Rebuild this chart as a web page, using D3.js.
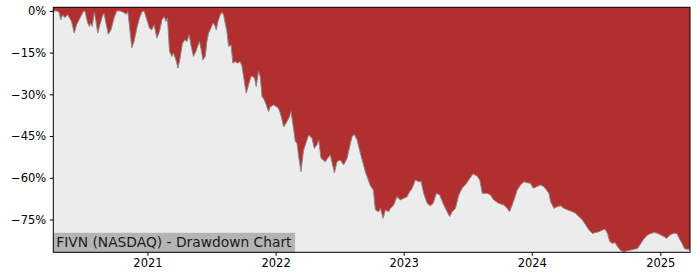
<!DOCTYPE html>
<html>
<head>
<meta charset="utf-8">
<script src="https://cdn.jsdelivr.net/npm/d3@7"></script>
<style>
  body { margin: 0; background: #fff; }
  svg { display: block; font-family: "DejaVu Sans", sans-serif; }
</style>
</head>
<body>
<svg id="drawing_region"></svg>
<script>
// dates as decimal years, drawdown in percent
const years = [
  2020.267, 2020.295, 2020.311, 2020.326, 2020.339, 2020.357, 2020.380, 2020.409, 2020.430, 2020.448,
  2020.474, 2020.500, 2020.513, 2020.531, 2020.547, 2020.558, 2020.570, 2020.586, 2020.597, 2020.613,
  2020.630, 2020.648, 2020.662, 2020.677, 2020.695, 2020.716, 2020.740, 2020.761, 2020.787, 2020.813,
  2020.834, 2020.847, 2020.859, 2020.878, 2020.896, 2020.917, 2020.938, 2020.956, 2020.974, 2020.995,
  2021.016, 2021.034, 2021.052, 2021.073, 2021.094, 2021.113, 2021.130, 2021.146, 2021.156, 2021.172,
  2021.191, 2021.203, 2021.222, 2021.238, 2021.255, 2021.273, 2021.295, 2021.308, 2021.326, 2021.339,
  2021.359, 2021.378, 2021.391, 2021.406, 2021.417, 2021.433, 2021.451, 2021.464, 2021.477, 2021.495,
  2021.511, 2021.523, 2021.537, 2021.550, 2021.568, 2021.581, 2021.594, 2021.607, 2021.620, 2021.633,
  2021.652, 2021.667, 2021.685, 2021.703, 2021.724, 2021.738, 2021.750, 2021.771, 2021.789, 2021.808,
  2021.823, 2021.836, 2021.849, 2021.867, 2021.880, 2021.894, 2021.912, 2021.927, 2021.945, 2021.959,
  2021.984, 2021.998, 2022.021, 2022.037, 2022.050, 2022.063, 2022.089, 2022.109, 2022.120, 2022.136,
  2022.154, 2022.167, 2022.180, 2022.198, 2022.219, 2022.245, 2022.258, 2022.284, 2022.302, 2022.323,
  2022.336, 2022.355, 2022.388, 2022.406, 2022.427, 2022.459, 2022.480, 2022.505, 2022.531, 2022.558,
  2022.578, 2022.597, 2022.615, 2022.636, 2022.662, 2022.701, 2022.740, 2022.763, 2022.779, 2022.805,
  2022.818, 2022.839, 2022.857, 2022.883, 2022.896, 2022.922, 2022.948, 2022.974, 2023.000, 2023.027,
  2023.039, 2023.066, 2023.091, 2023.117, 2023.136, 2023.156, 2023.183, 2023.209, 2023.230, 2023.255,
  2023.281, 2023.313, 2023.339, 2023.359, 2023.378, 2023.404, 2023.430, 2023.456, 2023.490, 2023.516,
  2023.542, 2023.573, 2023.594, 2023.613, 2023.652, 2023.677, 2023.703, 2023.742, 2023.781, 2023.808,
  2023.826, 2023.847, 2023.865, 2023.886, 2023.912, 2023.938, 2023.964, 2023.990, 2024.011, 2024.037,
  2024.068, 2024.094, 2024.115, 2024.133, 2024.146, 2024.172, 2024.198, 2024.224, 2024.250, 2024.281,
  2024.316, 2024.341, 2024.367, 2024.394, 2024.420, 2024.445, 2024.472, 2024.498, 2024.523, 2024.550,
  2024.570, 2024.589, 2024.607, 2024.628, 2024.648, 2024.667, 2024.693, 2024.719, 2024.745, 2024.771,
  2024.797, 2024.823, 2024.849, 2024.875, 2024.902, 2024.927, 2024.953, 2024.980, 2025.005, 2025.031,
  2025.050, 2025.076, 2025.102, 2025.128, 2025.148, 2025.170, 2025.188, 2025.206, 2025.232
];

const drawdown = [
  0, 0, -0.4, -3.2, -1.4, -2.4, -1.4, -3.8, -8.0, -5.0,
  -2.6, -0.3, 0, -3.8, -5.6, -4.4, -5.6, -0.5, -3.2, -8.0,
  -5.0, -2.1, -0.8, -4.4, -8.4, -6.8, -2.6, 0, 0, -0.5,
  -1.2, -0.3, -5.0, -13.2, -11.0, -6.2, -2.6, -0.3, 0, -3.2,
  -6.2, -6.8, -5.0, -9.8, -7.4, -3.2, -2.1, -3.8, -2.6, -14.6,
  -16.4, -15.2, -17.6, -20.6, -17.0, -11.6, -10.4, -11.0, -8.6, -12.2,
  -16.4, -14.6, -12.8, -11.0, -13.4, -17.6, -16.4, -11.0, -8.0, -6.2,
  -4.4, -5.0, -6.8, -3.8, -1.4, -0.5, -1.4, -4.4, -7.4, -12.8,
  -12.2, -18.8, -18.2, -18.8, -18.2, -20.0, -23.6, -29.6, -26.6, -23.6,
  -23.6, -24.2, -27.2, -21.8, -23.6, -30.8, -32.0, -33.8, -36.2, -34.5,
  -33.8, -34.2, -34.9, -36.7, -39.2, -41.7, -39.8, -38.0, -36.2, -41.0,
  -47.0, -47.5, -52.4, -57.8, -50.0, -46.4, -44.6, -45.8, -49.4, -48.2,
  -46.4, -53.0, -54.2, -53.0, -51.8, -58.2, -54.2, -53.6, -55.4, -53.0,
  -48.8, -45.2, -44.4, -46.4, -51.2, -57.9, -62.9, -64.4, -71.6, -72.2,
  -71.0, -74.6, -71.6, -72.2, -71.0, -69.8, -66.8, -68.0, -67.4, -66.8,
  -65.6, -63.8, -60.8, -61.4, -61.4, -65.6, -69.2, -70.1, -69.2, -65.6,
  -66.2, -69.8, -72.2, -74.0, -72.2, -71.0, -66.2, -63.8, -62.0, -60.2,
  -58.6, -59.4, -60.8, -65.6, -65.6, -66.2, -68.0, -69.2, -69.8, -71.0,
  -72.2, -69.8, -67.4, -64.4, -62.6, -61.4, -61.8, -62.0, -63.8, -63.2,
  -62.6, -63.2, -64.4, -65.6, -68.6, -71.0, -70.4, -70.1, -71.0, -71.6,
  -72.2, -72.8, -74.0, -75.2, -77.0, -78.8, -80.0, -79.7, -79.4, -78.8,
  -78.5, -80.0, -83.0, -83.6, -83.3, -84.8, -86.2, -86.6, -86.2, -86.0,
  -85.7, -85.4, -83.6, -81.8, -80.6, -80.0, -79.7, -80.0, -80.6, -81.2,
  -81.8, -80.6, -80.0, -80.0, -81.8, -83.6, -85.4, -85.7, -85.7
];

const yTicks = [0, -15, -30, -45, -60, -75];
const yLimits = [-86.8, 1.3];
const chartLabel = "FIVN (NASDAQ) - Drawdown Chart";

function yearToDate( t ) {
    const y = Math.floor(t);
    const a = Date.UTC(y, 0, 1), b = Date.UTC(y + 1, 0, 1);
    return new Date( a + (t - y) * (b - a) );
}

class DrawdownChart {

    constructor( config, data ) {
        this.config = config;
        this.data = data;
        this.init();
    }

    init() {
        let self = this;
        const m = self.config.margin;

        self.svg = d3.select( self.config.parent )
            .attr('width', self.config.width)
            .attr('height', self.config.height);

        self.inner_width = self.config.width - m.left - m.right;
        self.inner_height = self.config.height - m.top - m.bottom;

        self.chart = self.svg.append('g')
            .attr('transform', `translate(${m.left}, ${m.top})`);

        self.xscale = d3.scaleUtc().range( [0, self.inner_width] );
        self.yscale = d3.scaleLinear().range( [self.inner_height, 0] );

        self.xaxis = d3.axisBottom( self.xscale )
            .ticks( d3.utcYear.every(1) )
            .tickFormat( d3.utcFormat('%Y') )
            .tickSizeOuter(0)
            .tickSize(3.5)
            .tickPadding(3.5);

        self.yaxis = d3.axisLeft( self.yscale )
            .tickValues( yTicks )
            .tickFormat( d => (d < 0 ? '\u2212' : '') + Math.abs(d) + '%' )
            .tickSizeOuter(0)
            .tickSize(3.5)
            .tickPadding(3.5);
    }

    update() {
        let self = this;
        self.xscale.domain( d3.extent( self.data, d => d.date ) );
        self.yscale.domain( yLimits );
        self.render();
    }

    render() {
        let self = this;
        const w = self.inner_width, h = self.inner_height;

        self.chart.append('rect')
            .attr('width', w)
            .attr('height', h)
            .attr('fill', '#ececec');

        const area = d3.area()
            .x( d => self.xscale( d.date ) )
            .y0( self.yscale( yLimits[1] ) )
            .y1( d => self.yscale( d.value ) );

        self.chart.append('path')
            .datum( self.data )
            .attr('d', area)
            .attr('fill', '#b03030');

        const line = d3.line()
            .x( d => self.xscale( d.date ) )
            .y( d => self.yscale( d.value ) );

        self.chart.append('path')
            .datum( self.data )
            .attr('d', line)
            .attr('fill', 'none')
            .attr('stroke', '#8a8a8a')
            .attr('stroke-width', 1);

        // label box at the bottom left
        const label = self.chart.append('g');
        const txt = label.append('text')
            .attr('x', 3)
            .attr('y', h - 5)
            .attr('font-size', '13.8px')
            .attr('fill', '#1a1a1a')
            .text( chartLabel );
        const bb = txt.node().getBBox();
        label.insert('rect', 'text')
            .attr('x', 0)
            .attr('y', h - 19.5)
            .attr('width', bb.width + 6)
            .attr('height', 19.5)
            .attr('fill', '#b4b4b4');

        self.chart.append('rect')
            .attr('width', w)
            .attr('height', h)
            .attr('fill', 'none')
            .attr('stroke', '#000')
            .attr('stroke-width', 1);

        self.chart.append('g')
            .attr('transform', `translate(0, ${h})`)
            .call( self.xaxis )
            .call( g => g.select('.domain').remove() )
            .selectAll('text')
            .attr('font-size', '11.5px')
            .attr('font-family', 'DejaVu Sans')
            .attr('fill', '#000');

        self.chart.append('g')
            .call( self.yaxis )
            .call( g => g.select('.domain').remove() )
            .selectAll('text')
            .attr('font-size', '11.5px')
            .attr('font-family', 'DejaVu Sans')
            .attr('fill', '#000');
    }
}

const data = years.map( (t, i) => ({ date: yearToDate(t), value: drawdown[i] }) );

const config = {
    parent: '#drawing_region',
    width: 700,
    height: 280,
    margin: {top: 7.3, right: 10, bottom: 27.7, left: 53.3}
};

const chart = new DrawdownChart( config, data );
chart.update();
</script>
</body>
</html>
